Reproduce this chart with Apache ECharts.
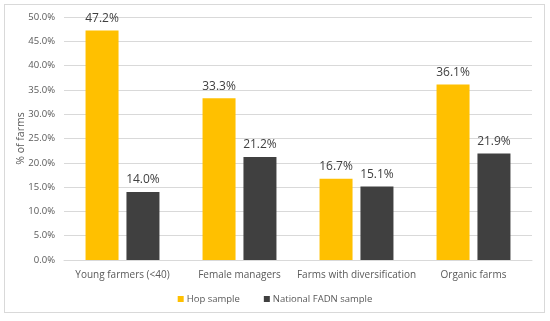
<!DOCTYPE html>
<html><head><meta charset="utf-8">
<script src="https://cdn.jsdelivr.net/npm/echarts@6/dist/echarts.min.js"></script>
<style>html,body{margin:0;padding:0;background:#fff}#c{width:550px;height:321px;}
#frame{position:absolute;left:4px;top:4px;width:541px;height:309px;border:1px solid #d9d9d9;box-sizing:border-box;pointer-events:none}</style>
</head><body><div id="c"></div><div id="frame"></div>
<script>
const categories = ["Young farmers (<40)", "Female managers", "Farms with diversification", "Organic farms"];
const hopSample = [47.2, 33.3, 16.7, 36.1];
const nationalSample = [14.0, 21.2, 15.1, 21.9];
const seriesNames = ["Hop sample", "National FADN sample"];
const chart = echarts.init(document.getElementById('c'));
const font = "Open Sans";
const lbl = {show: true, position: 'top', distance: 6, fontFamily: font, fontSize: 12, color: '#404040', formatter: p => p.value.toFixed(1) + '%'};
chart.setOption({
  animation: false,
  textStyle: {fontFamily: font},
  grid: {left: 64, right: 18, top: 17, bottom: 61, outerBoundsMode: 'none', containLabel: false},
  legend: {bottom: 12, left: 'center', itemWidth: 6, itemHeight: 6, itemGap: 24, icon: 'rect',
    textStyle: {fontFamily: font, fontSize: 9.5, color: '#595959', padding: [0, 0, 0, -2]}, data: seriesNames},
  xAxis: {type: 'category', data: categories,
    axisLine: {lineStyle: {color: '#d9d9d9'}}, axisTick: {show: false},
    axisLabel: {fontFamily: font, fontSize: 10, color: '#595959', margin: 10, interval: 0}},
  yAxis: {type: 'value', min: 0, max: 50, interval: 5,
    name: '% of farms', nameLocation: 'middle', nameGap: 37, nameRotate: 90, nameMoveOverlap: false,
    nameTextStyle: {fontFamily: font, fontSize: 10.5, color: '#595959'},
    axisLine: {show: false}, axisTick: {show: false},
    splitLine: {lineStyle: {color: '#d9d9d9'}},
    axisLabel: {fontFamily: font, fontSize: 9.5, color: '#595959', margin: 9, formatter: v => v.toFixed(1) + '%'}},
  series: [
    {name: seriesNames[0], type: 'bar', data: hopSample, barWidth: 33, barGap: '24%', itemStyle: {color: '#FFC000'}, label: lbl},
    {name: seriesNames[1], type: 'bar', data: nationalSample, barWidth: 33, itemStyle: {color: '#404040'}, label: lbl}
  ]
});
</script></body></html>
